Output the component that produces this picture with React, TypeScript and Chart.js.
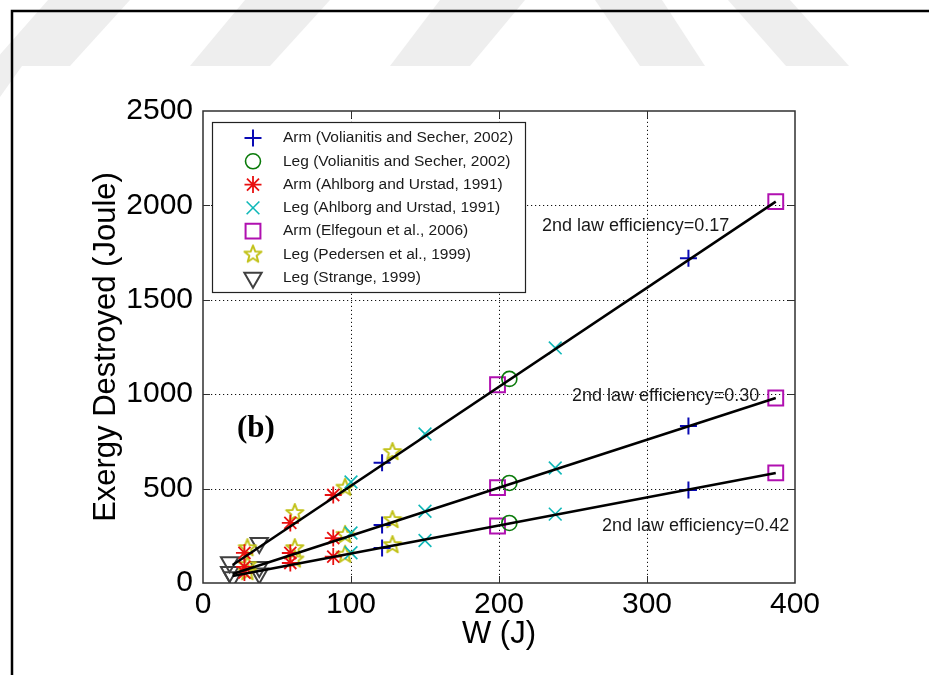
import React, { useEffect, useRef } from 'react';
import { Chart, registerables } from 'chart.js';

Chart.register(...registerables);

// ---- axis ticks ----
const W_TICKS = [0, 100, 200, 300, 400];
const EX_TICKS = [0, 500, 1000, 1500, 2000, 2500];

// ---- measured series: work W (J) and exergy destroyed (J) ----
const armVolianitisW = [121, 121, 121, 328, 328, 328];
const armVolianitisEx = [637, 307, 185, 1720, 832, 493];

const legVolianitisW = [207, 207, 207];
const legVolianitisEx = [1081, 530, 318];

const armAhlborgW = [88, 88, 88, 59, 59, 59, 28, 28, 28];
const armAhlborgEx = [466, 238, 140, 318, 159, 106, 160, 85, 55];

const legAhlborgW = [238, 238, 238, 150, 150, 150, 100, 100, 100];
const legAhlborgEx = [1245, 609, 365, 789, 380, 225, 535, 265, 160];

const armElfegounW = [199, 199, 199, 387, 387, 387];
const armElfegounEx = [1050, 505, 302, 2020, 980, 583];

const legPedersenW = [128, 128, 128, 96, 96, 96, 62, 62, 62, 30, 30, 30];
const legPedersenEx = [694, 334, 201, 505, 255, 150, 371, 185, 125, 185, 95, 58];

const legStrangeW = [18, 18, 20, 38, 38, 38];
const legStrangeEx = [110, 58, 30, 212, 85, 50];

// ---- fitted lines for each 2nd-law efficiency ----
const fit017W = [20, 387];
const fit017Ex = [95, 2020];
const fit030W = [20, 387];
const fit030Ex = [48, 980];
const fit042W = [20, 387];
const fit042Ex = [37, 583];

// ---- legend labels and in-plot notes ----
const SERIES_LABELS = [
  'Arm (Volianitis and Secher, 2002)',
  'Leg (Volianitis and Secher, 2002)',
  'Arm (Ahlborg and Urstad, 1991)',
  'Leg (Ahlborg and Urstad, 1991)',
  'Arm (Elfegoun et al., 2006)',
  'Leg (Pedersen et al., 1999)',
  'Leg (Strange, 1999)',
];
const NOTE_TEXTS = ['2nd law efficiency=0.17', '2nd law efficiency=0.30', '2nd law efficiency=0.42', '(b)'];
const NOTE_W = [229, 249.3, 269.6, 23];
const NOTE_EX = [1891, 990, 302, 818];

const SANS = '"Liberation Sans", Arial, Helvetica, sans-serif';
const SERIF = '"Liberation Serif", "Times New Roman", serif';

type MarkerKind = 'cross' | 'circle' | 'star' | 'crossRot' | 'rect' | 'penta' | 'triDown';

const MARKERS: { kind: MarkerKind; color: string; r: number; lw: number }[] = [
  { kind: 'cross', color: '#0a0ab4', r: 8.5, lw: 2 },
  { kind: 'circle', color: '#0a7a0a', r: 7.5, lw: 1.6 },
  { kind: 'star', color: '#e81010', r: 8.5, lw: 1.8 },
  { kind: 'crossRot', color: '#10b8b8', r: 9, lw: 1.6 },
  { kind: 'rect', color: '#b010b0', r: 10.5, lw: 2 },
  { kind: 'penta', color: '#c2c21a', r: 9, lw: 2 },
  { kind: 'triDown', color: '#404040', r: 10, lw: 2 },
];

function makePentagram(color: string, r: number, lw: number): HTMLCanvasElement {
  const size = Math.ceil(2 * r + 2 * lw + 2);
  const c = document.createElement('canvas');
  c.width = size;
  c.height = size;
  const g = c.getContext('2d')!;
  g.translate(size / 2, size / 2);
  g.beginPath();
  for (let i = 0; i < 10; i++) {
    const rad = i % 2 === 0 ? r : r * 0.42;
    const a = -Math.PI / 2 + (i * Math.PI) / 5;
    const px = Math.cos(a) * rad;
    const py = Math.sin(a) * rad;
    if (i === 0) g.moveTo(px, py);
    else g.lineTo(px, py);
  }
  g.closePath();
  g.strokeStyle = color;
  g.lineWidth = lw;
  g.lineJoin = 'round';
  g.stroke();
  return c;
}

function drawMarker(ctx: CanvasRenderingContext2D, m: (typeof MARKERS)[number], x: number, y: number, penta: HTMLCanvasElement) {
  const r = m.r;
  ctx.save();
  ctx.strokeStyle = m.color;
  ctx.lineWidth = m.lw;
  ctx.beginPath();
  switch (m.kind) {
    case 'cross':
      ctx.moveTo(x - r, y); ctx.lineTo(x + r, y);
      ctx.moveTo(x, y - r); ctx.lineTo(x, y + r);
      break;
    case 'circle':
      ctx.arc(x, y, r, 0, Math.PI * 2);
      break;
    case 'star': {
      ctx.moveTo(x - r, y); ctx.lineTo(x + r, y);
      ctx.moveTo(x, y - r); ctx.lineTo(x, y + r);
      const d = r * Math.SQRT1_2;
      ctx.moveTo(x - d, y - d); ctx.lineTo(x + d, y + d);
      ctx.moveTo(x - d, y + d); ctx.lineTo(x + d, y - d);
      break;
    }
    case 'crossRot': {
      const d = r * Math.SQRT1_2;
      ctx.moveTo(x - d, y - d); ctx.lineTo(x + d, y + d);
      ctx.moveTo(x - d, y + d); ctx.lineTo(x + d, y - d);
      break;
    }
    case 'rect': {
      const s = r * Math.SQRT1_2;
      ctx.rect(x - s, y - s, 2 * s, 2 * s);
      break;
    }
    case 'triDown': {
      const h = r;
      ctx.moveTo(x, y + h);
      ctx.lineTo(x + Math.sin((2 * Math.PI) / 3) * h, y - 0.5 * h);
      ctx.lineTo(x - Math.sin((2 * Math.PI) / 3) * h, y - 0.5 * h);
      ctx.closePath();
      break;
    }
    case 'penta':
      ctx.drawImage(penta, x - penta.width / 2, y - penta.height / 2);
      break;
  }
  ctx.stroke();
  ctx.restore();
}

// light diagonal stripes printed across the top of the page
const STRIPES: number[][][] = [
  [[48, 0], [130, 0], [70, 66], [-10, 66]],
  [[0, 66], [22, 66], [0, 97]],
  [[245, 0], [330, 0], [270, 66], [190, 66]],
  [[440, 0], [525, 0], [470, 66], [390, 66]],
  [[595, 0], [662, 0], [705, 66], [640, 66]],
  [[728, 0], [790, 0], [849, 66], [786, 66]],
];

export default function App() {
  const canvasRef = useRef<HTMLCanvasElement | null>(null);

  useEffect(() => {
    document.body.style.margin = '0';
    const canvas = canvasRef.current;
    if (!canvas) return;

    const penta = makePentagram(MARKERS[5].color, MARKERS[5].r, MARKERS[5].lw);

    const seriesW = [armVolianitisW, legVolianitisW, armAhlborgW, legAhlborgW, armElfegounW, legPedersenW, legStrangeW];
    const seriesEx = [armVolianitisEx, legVolianitisEx, armAhlborgEx, legAhlborgEx, armElfegounEx, legPedersenEx, legStrangeEx];

    const pointStyleOf = (k: MarkerKind): any => {
      switch (k) {
        case 'cross': return 'cross';
        case 'circle': return 'circle';
        case 'star': return 'star';
        case 'crossRot': return 'crossRot';
        case 'rect': return 'rect';
        case 'penta': return penta;
        case 'triDown': return 'triangle';
      }
    };

    const fitLine = (w: number[], ex: number[]) => ({
      data: w.map((x, i) => ({ x, y: ex[i] })),
      showLine: true,
      borderColor: '#000',
      borderWidth: 2.5,
      pointRadius: 0,
      fill: false,
    });

    const markerSets = seriesW.map((w, s) => {
      const m = MARKERS[s];
      return {
        label: SERIES_LABELS[s],
        data: w.map((x, i) => ({ x, y: seriesEx[s][i] })),
        showLine: false,
        pointStyle: pointStyleOf(m.kind),
        pointRadius: m.r,
        pointRotation: m.kind === 'triDown' ? 180 : 0,
        pointBorderColor: m.color,
        pointBackgroundColor: 'rgba(0,0,0,0)',
        pointBorderWidth: m.lw,
      };
    });

    const pagePlugin = {
      id: 'page',
      beforeDraw(chart: any) {
        const ctx: CanvasRenderingContext2D = chart.ctx;
        ctx.save();
        ctx.fillStyle = '#ffffff';
        ctx.fillRect(0, 0, chart.width, chart.height);
        ctx.fillStyle = '#eeeeee';
        for (const poly of STRIPES) {
          ctx.beginPath();
          poly.forEach(([px, py], i) => (i === 0 ? ctx.moveTo(px, py) : ctx.lineTo(px, py)));
          ctx.closePath();
          ctx.fill();
        }
        ctx.strokeStyle = '#000';
        ctx.lineWidth = 2.5;
        ctx.beginPath();
        ctx.moveTo(12, 675);
        ctx.lineTo(12, 11);
        ctx.lineTo(929, 11);
        ctx.stroke();
        ctx.restore();
      },
      beforeDatasetsDraw(chart: any) {
        const ctx: CanvasRenderingContext2D = chart.ctx;
        const { left, right, top, bottom } = chart.chartArea;
        const xs = chart.scales.x;
        const ys = chart.scales.y;
        ctx.save();
        ctx.strokeStyle = '#111';
        ctx.lineWidth = 1;
        ctx.setLineDash([1.2, 2.8]);
        for (const v of W_TICKS.slice(1, -1)) {
          const px = Math.round(xs.getPixelForValue(v)) + 0.5;
          ctx.beginPath();
          ctx.moveTo(px, bottom);
          ctx.lineTo(px, top);
          ctx.stroke();
        }
        for (const v of EX_TICKS.slice(1, -1)) {
          const py = Math.round(ys.getPixelForValue(v)) + 0.5;
          ctx.beginPath();
          ctx.moveTo(left, py);
          ctx.lineTo(right, py);
          ctx.stroke();
        }
        ctx.restore();
      },
      afterDatasetsDraw(chart: any) {
        const ctx: CanvasRenderingContext2D = chart.ctx;
        const { left, right, top, bottom } = chart.chartArea;
        const xs = chart.scales.x;
        const ys = chart.scales.y;
        ctx.save();

        // in-plot notes
        ctx.textBaseline = 'middle';
        ctx.textAlign = 'left';
        NOTE_TEXTS.forEach((t, i) => {
          ctx.fillStyle = i === 3 ? '#000' : '#1a1a1a';
          ctx.font = i === 3 ? `bold 31px ${SERIF}` : `18px ${SANS}`;
          ctx.fillText(t, xs.getPixelForValue(NOTE_W[i]), ys.getPixelForValue(NOTE_EX[i]));
        });

        // legend
        const lx = 212.5, ly = 122.5, lw = 313, lh = 170;
        ctx.fillStyle = '#fff';
        ctx.fillRect(lx, ly, lw, lh);
        ctx.strokeStyle = '#222';
        ctx.lineWidth = 1.2;
        ctx.strokeRect(lx, ly, lw, lh);
        ctx.font = `15.5px ${SANS}`;
        ctx.fillStyle = '#1a1a1a';
        SERIES_LABELS.forEach((lab, i) => {
          const rowY = 138 + i * 23.3;
          drawMarker(ctx, MARKERS[i], 253, rowY, penta);
          ctx.fillText(lab, 283, rowY);
        });

        // axes box with inward ticks
        ctx.strokeStyle = '#303030';
        ctx.lineWidth = 1.5;
        ctx.strokeRect(left, top, right - left, bottom - top);
        ctx.lineWidth = 1;
        ctx.beginPath();
        for (const v of W_TICKS.slice(1, -1)) {
          const px = Math.round(xs.getPixelForValue(v)) + 0.5;
          ctx.moveTo(px, bottom); ctx.lineTo(px, bottom - 7);
          ctx.moveTo(px, top); ctx.lineTo(px, top + 7);
        }
        for (const v of EX_TICKS.slice(1, -1)) {
          const py = Math.round(ys.getPixelForValue(v)) + 0.5;
          ctx.moveTo(left, py); ctx.lineTo(left + 7, py);
          ctx.moveTo(right, py); ctx.lineTo(right - 7, py);
        }
        ctx.stroke();
        ctx.restore();
      },
    };

    const plain = (v: any) => String(v);

    const chart = new Chart(canvas, {
      type: 'scatter',
      data: {
        datasets: [
          fitLine(fit017W, fit017Ex),
          fitLine(fit030W, fit030Ex),
          fitLine(fit042W, fit042Ex),
          ...markerSets,
        ] as any,
      },
      options: {
        responsive: false,
        animation: false,
        events: [],
        layout: { padding: { left: 0, right: 134, top: 111, bottom: 0 } },
        plugins: { legend: { display: false }, tooltip: { enabled: false } },
        scales: {
          x: {
            type: 'linear',
            position: 'bottom',
            min: 0,
            max: 400,
            afterFit: (s: any) => { s.height = 92; },
            afterBuildTicks: (s: any) => { s.ticks = W_TICKS.map((v) => ({ value: v })); },
            ticks: { font: { family: SANS, size: 30 }, color: '#000', padding: 4, maxRotation: 0, autoSkip: false, callback: plain },
            grid: { display: false, drawTicks: false },
            border: { display: false },
            title: { display: true, text: 'W (J)', font: { family: SANS, size: 31 }, color: '#000', padding: { top: 0, bottom: 22 } },
          },
          y: {
            type: 'linear',
            position: 'left',
            min: 0,
            max: 2500,
            afterFit: (s: any) => { s.width = 203; },
            afterBuildTicks: (s: any) => { s.ticks = EX_TICKS.map((v) => ({ value: v })); },
            ticks: { font: { family: SANS, size: 30 }, color: '#000', padding: 10, autoSkip: false, callback: plain },
            grid: { display: false, drawTicks: false },
            border: { display: false },
            title: { display: true, text: 'Exergy Destroyed (Joule)', font: { family: SANS, size: 31 }, color: '#000', padding: { top: 88, bottom: 0 } },
          },
        },
      } as any,
      plugins: [pagePlugin],
    });

    return () => chart.destroy();
  }, []);

  return (
    <div style={{ width: 929, height: 675, position: 'relative' }}>
      <canvas ref={canvasRef} width={929} height={675} style={{ display: 'block', width: 929, height: 675 }} />
    </div>
  );
}
